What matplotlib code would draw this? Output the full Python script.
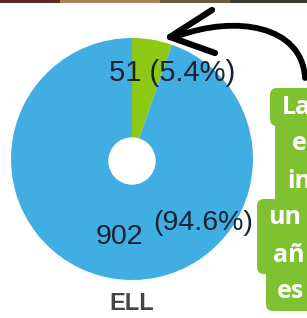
import matplotlib.pyplot as plt
from matplotlib.patches import Circle, FancyBboxPatch, Rectangle
from matplotlib.path import Path
from matplotlib.patches import PathPatch

# ===============================
# Data
# ===============================
groups = ["ELL", "No ELL"]
counts = [51, 902]
slice_colors = ["#8DC815", "#40AEE2"]
title = "ELL"

# fragments of the callout text that are visible in the picture
note_lines = ["La", "e", "in", "un", "añ", "es"]

H = 318
total = sum(counts)
pcts = [c / total * 100 for c in counts]

# ===============================
# Figure (pixel coordinates, y up)
# ===============================
fig = plt.figure(figsize=(3.07, 3.18), dpi=100)
ax = fig.add_axes([0, 0, 1, 1])

ax.pie(
    counts,
    colors=slice_colors,
    startangle=90,
    counterclock=False,
    center=(132, H - 159),
    radius=121,
)
ax.add_patch(Circle((132, H - 161), 23, color="white", zorder=3))

# slice labels
txt_col = "#15222F"
ax.text(172, H - 73, f"{counts[0]} ({pcts[0]:.1f}%)", ha="center", va="center",
        fontsize=21, color=txt_col, family="Liberation Sans")
ax.text(119, H - 237, f"{counts[1]}", ha="center", va="center",
        fontsize=20.5, color=txt_col, family="Liberation Sans")
ax.text(203, H - 223, f"({pcts[1]:.1f}%)", ha="center", va="center",
        fontsize=20.5, color=txt_col, family="Liberation Sans")

ax.text(132, H - 304, title, ha="center", va="center", fontsize=17,
        fontweight="bold", color="#454545", family="Liberation Sans")

# top photo strip
strip = [(0, 60, "#5A2B1E"), (60, 160, "#A88257"), (160, 230, "#6B5A3E"), (230, 307, "#3A3B2C")]
for x0, x1, c in strip:
    ax.add_patch(Rectangle((x0, H - 3), x1 - x0, 3, color=c, lw=0))

# callout box (one rounded background per line)
box_green = "#7FC130"
line_left = [270, 275, 275, 257, 257, 266]
text_left = [282, 292, 287, 268, 273, 277]
line_mid = [107, 144, 181, 218, 255, 292]
for lbl, bx, tx, ym in zip(note_lines, line_left, text_left, line_mid):
    ax.add_patch(FancyBboxPatch((bx, H - ym - 19), 80, 38,
                                boxstyle="round,pad=0,rounding_size=7",
                                color=box_green, lw=0, zorder=4))
    # square filler so neighbouring lines join without notches
    ax.add_patch(Rectangle((bx + 7, H - ym - 19), 80, 38,
                           color=box_green, lw=0, zorder=4))
for i in range(len(line_mid) - 1):
    xj = max(line_left[i], line_left[i + 1])
    ax.add_patch(Rectangle((xj, H - line_mid[i] - 25), 80, 12,
                           color=box_green, lw=0, zorder=4))
for lbl, bx, tx, ym in zip(note_lines, line_left, text_left, line_mid):
    ax.text(tx, H - ym, lbl, ha="left", va="center", fontsize=18,
            fontweight="bold", color="white", family="Open Sans", zorder=5)

# hand drawn arrow
verts = [(305, H - 78), (302, H - 25), (235, H - 15), (178, H - 36)]
codes = [Path.MOVETO, Path.CURVE4, Path.CURVE4, Path.CURVE4]
ax.add_patch(PathPatch(Path(verts, codes), fill=False, lw=4.2,
                       color="black", capstyle="round", zorder=6))
for end in [(212, H - 10), (215, H - 53)]:
    ax.plot([170, end[0]], [H - 37, end[1]], color="black", lw=4.5,
            solid_capstyle="round", zorder=6)

ax.set_xlim(0, 307)
ax.set_ylim(0, H)
ax.set_aspect("auto")
ax.axis("off")

plt.savefig("out.png", dpi=100)
